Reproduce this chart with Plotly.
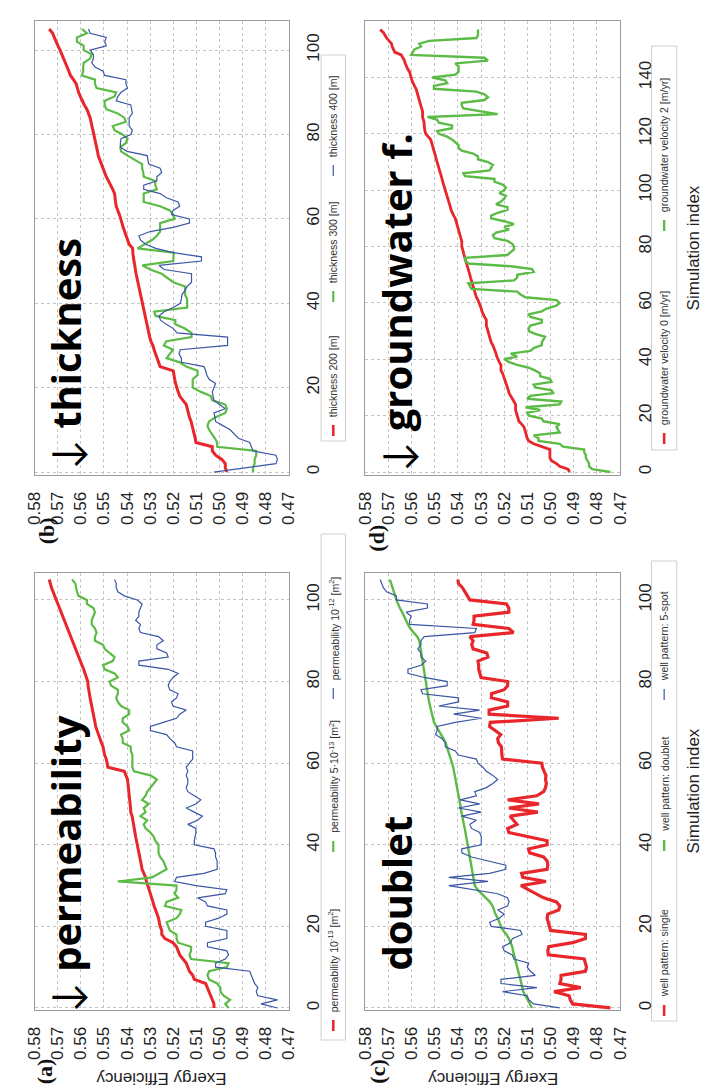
import plotly.graph_objects as go

W, H = 709, 1092

# ---------------- data (exergy efficiency per simulation index) ----------------
perm_1e13 = [0.5024,0.5024,0.5031,0.5038,0.5045,0.5052,0.5060,0.5109,0.5116,0.5130,0.5137,0.5144,0.5158,0.5172,0.5179,0.5186,0.5201,0.5236,0.5250,0.5250,
             0.5257,0.5260,0.5264,0.5270,0.5278,0.5283,0.5288,0.5294,0.5299,0.5306,0.5313,0.5316,0.5320,0.5328,0.5335,0.5338,0.5342,0.5345,0.5349,0.5352,
             0.5356,0.5360,0.5363,0.5366,0.5370,0.5372,0.5375,0.5378,0.5384,0.5385,0.5387,0.5389,0.5391,0.5393,0.5395,0.5396,0.5398,0.5405,0.5412,0.5483,
             0.5485,0.5490,0.5497,0.5500,0.5504,0.5511,0.5518,0.5525,0.5532,0.5536,0.5539,0.5543,0.5546,0.5550,0.5553,0.5557,0.5560,0.5563,0.5567,0.5569,
             0.5570,0.5575,0.5581,0.5588,0.5595,0.5602,0.5610,0.5617,0.5624,0.5631,0.5638,0.5645,0.5652,0.5659,0.5666,0.5673,0.5680,0.5687,0.5694,0.5701,
             0.5708,0.5715,0.5722,0.5727,0.5732,0.5737]
perm_5e13 = [0.4961,0.4975,0.4954,0.4982,0.4996,0.4996,0.5010,0.5045,0.5052,0.5045,0.4968,0.4961,0.5123,0.5130,0.5123,0.5123,0.5179,0.5186,0.5186,0.5215,
             0.5222,0.5229,0.5186,0.5172,0.5165,0.5236,0.5229,0.5179,0.5194,0.5186,0.5186,0.5440,0.5292,0.5257,0.5229,0.5236,0.5243,0.5257,0.5264,0.5264,
             0.5264,0.5278,0.5285,0.5299,0.5320,0.5328,0.5313,0.5342,0.5320,0.5328,0.5306,0.5335,0.5320,0.5313,0.5299,0.5285,0.5271,0.5299,0.5370,0.5377,
             0.5377,0.5377,0.5377,0.5384,0.5384,0.5419,0.5419,0.5426,0.5391,0.5398,0.5419,0.5419,0.5391,0.5391,0.5426,0.5440,0.5447,0.5440,0.5440,0.5469,
             0.5476,0.5440,0.5454,0.5497,0.5504,0.5462,0.5454,0.5476,0.5497,0.5504,0.5539,0.5539,0.5532,0.5539,0.5553,0.5553,0.5546,0.5539,0.5546,0.5574,
             0.5574,0.5610,0.5617,0.5620,0.5624,0.5638]
perm_1e12 = [0.4749,0.4820,0.4749,0.4834,0.4841,0.4834,0.4848,0.4855,0.4862,0.4869,0.5017,0.5017,0.4975,0.4961,0.4968,0.5052,0.5052,0.4968,0.4968,0.4968,
             0.5060,0.5060,0.5003,0.4968,0.4968,0.5052,0.5060,0.5095,0.4975,0.4968,0.5102,0.5194,0.5186,0.5067,0.5010,0.5010,0.5010,0.5017,0.5017,0.5024,
             0.5109,0.5109,0.5105,0.5102,0.5102,0.5137,0.5095,0.5074,0.5109,0.5144,0.5102,0.5081,0.5109,0.5137,0.5144,0.5137,0.5137,0.5144,0.5137,0.5144,
             0.5130,0.5116,0.5116,0.5116,0.5186,0.5194,0.5215,0.5229,0.5299,0.5299,0.5243,0.5186,0.5172,0.5144,0.5201,0.5208,0.5186,0.5179,0.5215,0.5222,
             0.5215,0.5201,0.5179,0.5222,0.5349,0.5349,0.5222,0.5229,0.5271,0.5271,0.5243,0.5264,0.5342,0.5349,0.5342,0.5363,0.5349,0.5349,0.5342,0.5335,
             0.5356,0.5412,0.5440,0.5447,0.5447,0.5454]

thick_200 = [0.4968,0.4975,0.4975,0.4990,0.5017,0.5031,0.5031,0.5102,0.5105,0.5109,0.5112,0.5116,0.5123,0.5130,0.5134,0.5139,0.5144,0.5158,0.5172,0.5179,
             0.5186,0.5190,0.5194,0.5197,0.5200,0.5257,0.5264,0.5271,0.5276,0.5283,0.5288,0.5297,0.5302,0.5306,0.5310,0.5315,0.5320,0.5324,0.5328,0.5332,
             0.5334,0.5339,0.5343,0.5347,0.5351,0.5356,0.5359,0.5361,0.5364,0.5368,0.5370,0.5373,0.5375,0.5376,0.5391,0.5398,0.5405,0.5412,0.5417,0.5422,
             0.5426,0.5433,0.5440,0.5447,0.5450,0.5452,0.5454,0.5462,0.5472,0.5481,0.5490,0.5497,0.5504,0.5508,0.5515,0.5525,0.5528,0.5532,0.5535,0.5539,
             0.5543,0.5546,0.5550,0.5553,0.5560,0.5567,0.5574,0.5585,0.5595,0.5602,0.5610,0.5615,0.5620,0.5632,0.5645,0.5652,0.5659,0.5666,0.5673,0.5681,
             0.5690,0.5699,0.5708,0.5715,0.5722,0.5737]
thick_300 = [0.4855,0.4855,0.4848,0.4848,0.4841,0.4841,0.5010,0.5010,0.5020,0.5031,0.5045,0.5052,0.5045,0.5017,0.4975,0.4968,0.4975,0.5031,0.5038,0.5080,
             0.5116,0.5116,0.5116,0.5095,0.5095,0.5144,0.5172,0.5229,0.5215,0.5201,0.5241,0.5230,0.5121,0.5121,0.5150,0.5191,0.5191,0.5276,0.5283,0.5140,
             0.5140,0.5140,0.5149,0.5149,0.5149,0.5200,0.5227,0.5250,0.5300,0.5334,0.5200,0.5198,0.5198,0.5355,0.5320,0.5292,0.5271,0.5257,0.5257,0.5257,
             0.5194,0.5201,0.5215,0.5257,0.5328,0.5328,0.5328,0.5271,0.5278,0.5278,0.5328,0.5330,0.5335,0.5335,0.5370,0.5398,0.5426,0.5429,0.5405,0.5398,
             0.5420,0.5454,0.5462,0.5405,0.5412,0.5440,0.5490,0.5497,0.5497,0.5454,0.5447,0.5532,0.5539,0.5539,0.5595,0.5590,0.5590,0.5588,0.5560,0.5553,
             0.5588,0.5588,0.5617,0.5617,0.5574,0.5595]
thick_400 = [0.5024,0.4880,0.4756,0.4749,0.4756,0.4855,0.4862,0.4869,0.4918,0.4935,0.4954,0.4985,0.5017,0.5020,0.5024,0.4975,0.5000,0.5024,0.5028,0.5031,
             0.5024,0.5017,0.5045,0.5055,0.5060,0.5067,0.5165,0.5165,0.5175,0.5170,0.4965,0.4965,0.4965,0.5184,0.5200,0.5230,0.5255,0.5262,0.5240,0.5200,
             0.5170,0.5165,0.5163,0.5150,0.5140,0.5121,0.5121,0.5121,0.5240,0.5262,0.5078,0.5078,0.5200,0.5276,0.5320,0.5342,0.5349,0.5300,0.5200,0.5130,
             0.5130,0.5208,0.5201,0.5172,0.5179,0.5230,0.5257,0.5328,0.5328,0.5271,0.5271,0.5250,0.5257,0.5306,0.5310,0.5313,0.5400,0.5429,0.5429,0.5426,
             0.5384,0.5377,0.5391,0.5391,0.5391,0.5377,0.5380,0.5384,0.5447,0.5440,0.5426,0.5398,0.5405,0.5405,0.5497,0.5504,0.5539,0.5553,0.5546,0.5546,
             0.5560,0.5490,0.5497,0.5490,0.5560,0.5567]

well_single = [0.4742,0.4905,0.4915,0.4920,0.4985,0.4870,0.4960,0.4955,0.4955,0.4850,0.4845,0.4850,0.4855,0.5010,0.5012,0.5008,0.4905,0.4850,0.4850,0.5000,
               0.5005,0.5010,0.5015,0.5012,0.4965,0.4960,0.4975,0.5030,0.5065,0.5100,0.5128,0.5020,0.5120,0.5125,0.5015,0.5012,0.5015,0.5030,0.5090,0.5095,
               0.5015,0.5015,0.5095,0.5180,0.5185,0.5145,0.5160,0.5175,0.5055,0.5180,0.5050,0.5185,0.5060,0.5030,0.5022,0.5018,0.5022,0.5020,0.5028,0.5035,
               0.5038,0.5207,0.5210,0.5210,0.5212,0.5225,0.5228,0.5215,0.5242,0.5263,0.5260,0.4965,0.5265,0.5265,0.5185,0.5185,0.5255,0.5255,0.5200,0.5185,
               0.5185,0.5300,0.5305,0.5310,0.5310,0.5313,0.5270,0.5275,0.5334,0.5340,0.5334,0.5348,0.5160,0.5180,0.5334,0.5330,0.5330,0.5180,0.5180,0.5190,
               0.5348,0.5360,0.5370,0.5380,0.5397,0.5400]
well_doublet = [0.5080,0.5090,0.5101,0.5110,0.5118,0.5122,0.5125,0.5130,0.5135,0.5140,0.5144,0.5147,0.5152,0.5158,0.5162,0.5165,0.5172,0.5180,0.5190,0.5205,
                0.5214,0.5220,0.5228,0.5238,0.5245,0.5250,0.5262,0.5280,0.5300,0.5315,0.5327,0.5330,0.5333,0.5337,0.5340,0.5342,0.5345,0.5348,0.5350,0.5352,
                0.5355,0.5358,0.5362,0.5366,0.5370,0.5374,0.5378,0.5382,0.5385,0.5388,0.5390,0.5393,0.5396,0.5399,0.5402,0.5405,0.5408,0.5412,0.5416,0.5420,
                0.5425,0.5430,0.5435,0.5442,0.5448,0.5453,0.5462,0.5472,0.5482,0.5493,0.5503,0.5507,0.5512,0.5516,0.5520,0.5524,0.5527,0.5530,0.5533,0.5536,
                0.5538,0.5541,0.5544,0.5547,0.5550,0.5552,0.5555,0.5558,0.5561,0.5564,0.5566,0.5575,0.5590,0.5605,0.5615,0.5623,0.5630,0.5640,0.5650,0.5658,
                0.5665,0.5670,0.5676,0.5682,0.5688,0.5693]
well_5spot = [0.4961,0.5073,0.5094,0.5101,0.5207,0.5059,0.5214,0.5214,0.5066,0.5087,0.5101,0.5094,0.5158,0.5165,0.5200,0.5207,0.5172,0.5165,0.5123,0.5130,
              0.5256,0.5263,0.5221,0.5200,0.5228,0.5186,0.5179,0.5186,0.5228,0.5341,0.5439,0.5270,0.5439,0.5263,0.5193,0.5193,0.5270,0.5341,0.5383,0.5383,
              0.5299,0.5299,0.5299,0.5306,0.5341,0.5348,0.5320,0.5383,0.5299,0.5397,0.5306,0.5390,0.5320,0.5327,0.5277,0.5249,0.5228,0.5249,0.5277,0.5292,
              0.5313,0.5320,0.5397,0.5411,0.5454,0.5454,0.5468,0.5496,0.5489,0.5489,0.5411,0.5299,0.5418,0.5306,0.5482,0.5397,0.5397,0.5552,0.5559,0.5446,
              0.5446,0.5545,0.5615,0.5615,0.5559,0.5538,0.5559,0.5559,0.5573,0.5559,0.5559,0.5545,0.5327,0.5320,0.5608,0.5608,0.5601,0.5623,0.5531,0.5531,
              0.5665,0.5665,0.5707,0.5721,0.5728,0.5735]

gw_v0 = [0.4918,0.4925,0.4961,0.4975,0.4996,0.5003,0.5003,0.5003,0.5003,0.5038,0.5073,0.5094,0.5101,0.5104,0.5108,0.5112,0.5115,0.5125,0.5137,0.5140,
         0.5144,0.5148,0.5151,0.5151,0.5151,0.5158,0.5165,0.5172,0.5179,0.5182,0.5186,0.5190,0.5193,0.5196,0.5200,0.5207,0.5214,0.5214,0.5214,0.5221,
         0.5228,0.5232,0.5235,0.5239,0.5242,0.5249,0.5256,0.5260,0.5263,0.5267,0.5270,0.5274,0.5277,0.5277,0.5277,0.5285,0.5292,0.5296,0.5299,0.5303,
         0.5306,0.5313,0.5320,0.5324,0.5327,0.5330,0.5334,0.5338,0.5341,0.5345,0.5348,0.5352,0.5355,0.5359,0.5362,0.5366,0.5369,0.5373,0.5376,0.5380,
         0.5383,0.5383,0.5383,0.5387,0.5390,0.5394,0.5397,0.5401,0.5404,0.5408,0.5411,0.5418,0.5425,0.5429,0.5432,0.5436,0.5439,0.5443,0.5446,0.5450,
         0.5454,0.5457,0.5461,0.5465,0.5468,0.5472,0.5475,0.5479,0.5482,0.5486,0.5489,0.5493,0.5496,0.5500,0.5503,0.5507,0.5510,0.5514,0.5517,0.5528,
         0.5538,0.5542,0.5545,0.5545,0.5545,0.5549,0.5552,0.5552,0.5552,0.5556,0.5559,0.5563,0.5566,0.5570,0.5573,0.5577,0.5580,0.5587,0.5594,0.5598,
         0.5601,0.5605,0.5608,0.5616,0.5623,0.5627,0.5630,0.5637,0.5644,0.5672,0.5679,0.5683,0.5686,0.5697,0.5707,0.5714,0.5721,0.5735]
gw_v2 = [0.4742,0.4820,0.4834,0.4834,0.4841,0.4848,0.4848,0.4855,0.4855,0.4946,0.4961,0.5052,0.5052,0.5073,0.4961,0.4968,0.4975,0.4961,0.5031,0.5038,
         0.5094,0.5101,0.5045,0.5108,0.4961,0.4954,0.5101,0.5087,0.4989,0.4996,0.5066,0.5073,0.4996,0.5003,0.5045,0.5045,0.5066,0.5094,0.5144,0.5179,
         0.5200,0.5144,0.5172,0.5087,0.5073,0.5038,0.5038,0.5031,0.5024,0.5066,0.5094,0.5094,0.5087,0.5038,0.5038,0.5087,0.5094,0.5038,0.5017,0.4975,
         0.4961,0.4975,0.5108,0.5130,0.5144,0.5341,0.5348,0.5355,0.5158,0.5144,0.5144,0.5073,0.5080,0.5172,0.5355,0.5369,0.5369,0.5186,0.5172,0.5158,
         0.5158,0.5165,0.5186,0.5242,0.5249,0.5235,0.5179,0.5200,0.5158,0.5200,0.5256,0.5256,0.5228,0.5186,0.5186,0.5235,0.5214,0.5200,0.5193,0.5221,
         0.5200,0.5193,0.5207,0.5242,0.5242,0.5369,0.5376,0.5263,0.5256,0.5249,0.5270,0.5313,0.5313,0.5334,0.5383,0.5397,0.5397,0.5411,0.5425,0.5446,
         0.5482,0.5489,0.5425,0.5425,0.5482,0.5489,0.5531,0.5228,0.5299,0.5376,0.5383,0.5383,0.5285,0.5270,0.5285,0.5320,0.5503,0.5503,0.5446,0.5454,
         0.5510,0.5411,0.5397,0.5397,0.5397,0.5411,0.5270,0.5285,0.5601,0.5594,0.5587,0.5559,0.5566,0.5524,0.5320,0.5313,0.5313,0.5313]

eff_ticks = [0.58, 0.57, 0.56, 0.55, 0.54, 0.53, 0.52, 0.51, 0.50, 0.49, 0.48, 0.47]
eff_tick_text = ["0.58", "0.57", "0.56", "0.55", "0.54", "0.53", "0.52", "0.51", "0.50", "0.49", "0.48", "0.47"]

ARROW = '<span style="font-weight:400">↓</span> '
panels = {
    "a": {"series": [perm_1e13, perm_5e13, perm_1e12],
          "names": ["permeability 10<sup>-13</sup> [m<sup>2</sup>]",
                    "permeability 5·10<sup>-13</sup> [m<sup>2</sup>]",
                    "permeability 10<sup>-12</sup> [m<sup>2</sup>]"],
          "label": ARROW + "permeability", "dtick": 20},
    "b": {"series": [thick_200, thick_300, thick_400],
          "names": ["thickness 200 [m]", "thickness 300 [m]", "thickness 400 [m]"],
          "label": ARROW + "thickness", "dtick": 20},
    "c": {"series": [well_single, well_doublet, well_5spot],
          "names": ["well pattern: single", "well pattern: doublet", "well pattern: 5-spot"],
          "label": "doublet", "dtick": 20},
    "d": {"series": [gw_v0, gw_v2],
          "names": ["groundwater velocity 0 [m/yr]", "groundwater velocity 2 [m/yr]"],
          "label": ARROW + "groundwater f.", "dtick": 20},
}

# ---------------- styling / layout (pixels) ----------------
COLORS = ["#e8262b", "#5cbb46", "#3b56a6"]
WIDTHS = {"a": [3.0, 2.2, 1.2], "b": [3.0, 2.2, 1.2], "c": [3.2, 2.4, 1.2], "d": [2.8, 2.4]}
FR = {  # frame x0, x1, y0(top), y1(bottom), index range
    "a": (18, 279, 565, 1002, [-0.5, 106.6]),
    "b": (18, 279, 13, 467, [-0.7, 106.9]),
    "c": (357, 619, 565, 1002, [-0.5, 106.6]),
    "d": (357, 619, 13, 467, [-1.06, 160.05]),
}
AX = {"a": ("x", "y", "", ""), "b": ("x2", "y2", "2", "2"), "c": ("x3", "y3", "3", "3"), "d": ("x4", "y4", "4", "4")}


def PX(px):
    return px / W


def PY(py):
    return 1 - py / H


TICKFONT = dict(family="Liberation Sans, Arial, sans-serif", size=17, color="#222222")
GRID = "#c4c4c4"
FRAME = "#9a9a9a"

fig = go.Figure()
layout = dict(width=W, height=H, margin=dict(l=0, r=0, t=0, b=0), paper_bgcolor="white",
              plot_bgcolor="white", showlegend=False)
shapes, annotations = [], []

for key, p in panels.items():
    x0, x1, y0, y1, yr = FR[key]
    xa, ya, xs, ys = AX[key]
    for i, vals in enumerate(p["series"]):
        fig.add_trace(go.Scatter(x=vals, y=list(range(len(vals))), mode="lines",
                                 xaxis=xa, yaxis=ya, name=p["names"][i],
                                 line=dict(color=COLORS[i], width=WIDTHS[key][i])))
    layout["xaxis" + xs] = dict(domain=[PX(x0), PX(x1)], range=[0.58005, 0.46995], anchor=ya,
                                tickvals=eff_ticks, ticktext=eff_tick_text, tickangle=-90,
                                tickfont=TICKFONT, ticks="", ticklabelstandoff=9,
                                showgrid=True, gridcolor=GRID, griddash="dot", gridwidth=1,
                                showline=True, linecolor=FRAME, linewidth=1, mirror=True,
                                zeroline=False, fixedrange=True)
    layout["yaxis" + ys] = dict(domain=[PY(y1), PY(y0)], range=yr, anchor=xa, side="right",
                                dtick=p["dtick"], tick0=0, tickangle=-90, tickfont=TICKFONT,
                                ticks="", ticklabelstandoff=9,
                                showgrid=True, gridcolor=GRID, griddash="dot", gridwidth=1,
                                showline=True, linecolor=FRAME, linewidth=1, mirror=True,
                                zeroline=False, fixedrange=True)

# big rotated labels inside panels (anchored at the end of the text, i.e. its top)
BIG = dict(family="Open Sans, Lato, sans-serif", size=40, color="#000000", weight=700)
big_pos = {"a": (50, 705), "b": (50, 228), "c": (389, 806), "d": (389, 123)}
for key, (bx, by) in big_pos.items():
    annotations.append(dict(text=panels[key]["label"], x=PX(bx), y=PY(by), xref="paper", yref="paper",
                            xanchor="center", yanchor="top", textangle=-90, showarrow=False, font=BIG))

# panel letters
LET = dict(family="Liberation Serif, Times New Roman, serif", size=22, color="#111111", weight=700)
for key, (lx, ly) in {"a": (28, 1063), "b": (30, 523), "c": (369, 1064), "d": (368, 530)}.items():
    annotations.append(dict(text="(" + key + ")", x=PX(lx), y=PY(ly), xref="paper", yref="paper",
                            xanchor="center", yanchor="middle", textangle=-90, showarrow=False, font=LET))

# axis titles
TITLE = dict(family="Liberation Sans, Arial, sans-serif", size=17, color="#222222")
for cx in (148, 488):
    annotations.append(dict(text="Exergy Efficiency", x=PX(cx), y=PY(1071), xref="paper", yref="paper",
                            xanchor="center", yanchor="middle", textangle=180, showarrow=False, font=TITLE))
for cy in (240, 783):
    annotations.append(dict(text="Simulation index", x=PX(694), y=PY(cy), xref="paper", yref="paper",
                            xanchor="center", yanchor="middle", textangle=-90, showarrow=False, font=TITLE))

# legends (rotated, drawn with shapes + annotations)
LEGFONT = dict(family="Liberation Sans, Arial, sans-serif", size=10.5, color="#333333")
legends = {
    # box x0, x1, y_top, y_bottom, [line y-bottoms of each entry]
    "a": (312, 337, 526, 1032, [1023, 844, 691]),
    "b": (312, 337, 47, 433, [428, 294, 168]),
    "c": (651, 677, 553, 1013, [1008, 843, 692]),
    "d": (651, 677, 38, 442, [436, 223]),
}
for key, (lx0, lx1, lyt, lyb, entries) in legends.items():
    shapes.append(dict(type="rect", xref="paper", yref="paper", x0=PX(lx0), x1=PX(lx1),
                       y0=PY(lyb), y1=PY(lyt), line=dict(color="#cfcfcf", width=1), fillcolor="white",
                       layer="below"))
    xc = (lx0 + lx1) / 2
    for i, ey in enumerate(entries):
        shapes.append(dict(type="line", xref="paper", yref="paper", x0=PX(xc), x1=PX(xc),
                           y0=PY(ey), y1=PY(ey - 11),
                           line=dict(color=COLORS[i], width=WIDTHS[key][i] if i else 2.6)))
        annotations.append(dict(text=panels[key]["names"][i], x=PX(xc), y=PY(ey - 17), xref="paper", yref="paper",
                                xanchor="center", yanchor="bottom", textangle=-90, showarrow=False,
                                font=LEGFONT))

layout["shapes"] = shapes
layout["annotations"] = annotations
fig.update_layout(**layout)
fig.write_html("out.html")
